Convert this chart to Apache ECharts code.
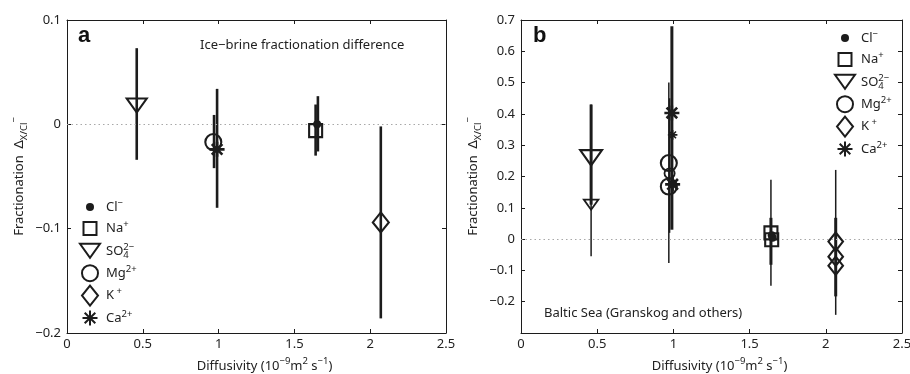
<!DOCTYPE html>
<html><head><meta charset="utf-8">
<script src="https://cdn.jsdelivr.net/npm/echarts@6/dist/echarts.min.js"></script>
<style>html,body{margin:0;padding:0;background:#fff}#c{width:910px;height:374px}</style>
</head><body><div id="c"></div>
<script>
// ---------- data ----------
const ionKeys = ['Cl', 'Na', 'SO4', 'Mg', 'K', 'Ca'];
const xTickValues = [0, 0.5, 1, 1.5, 2, 2.5];
const aYTickValues = [-0.2, -0.1, 0, 0.1];
const bYTickValues = [-0.3, -0.2, -0.1, 0, 0.1, 0.2, 0.3, 0.4, 0.5, 0.6, 0.7];

// panel a: ice-brine fractionation difference  [diffusivity, fractionation]
const aCl  = [[1.65, 0.000]];
const aNa  = [[1.64, -0.006]];
const aSO4 = [[0.46, 0.018]];
const aMg  = [[0.965, -0.017]];
const aK   = [[2.07, -0.094]];
const aCa  = [[0.99, -0.024]];
// error bars [x, low, high]
const aErr = [[0.46, -0.034, 0.073], [0.97, -0.042, 0.009], [0.99, -0.080, 0.034],
              [1.64, -0.030, 0.019], [1.655, -0.026, 0.027], [2.07, -0.186, -0.002]];

// panel b: Baltic Sea (Granskog and others)
const bCl       = [[1.645, 0.012], [1.65, 0.004]];
const bNa       = [[1.64, 0.020], [1.645, -0.002]];
const bSO4      = [[0.46, 0.26]];
const bSO4small = [[0.46, 0.11]];
const bMg       = [[0.97, 0.243], [0.97, 0.168]];
const bMgSmall  = [[0.975, 0.21]];
const bK        = [[2.065, -0.008], [2.065, -0.056], [2.065, -0.085]];
const bCa       = [[0.99, 0.403], [0.995, 0.175]];
const bCaSmall  = [[0.995, 0.333]];
const bErrThick = [[0.46, 0.11, 0.43], [0.99, 0.03, 0.68], [1.64, -0.082, 0.068], [2.065, -0.183, 0.068]];
const bErrThin  = [[0.46, -0.055, 0.43], [0.97, -0.076, 0.50], [0.975, 0.02, 0.45],
                   [1.64, -0.149, 0.19], [2.065, -0.242, 0.221]];

// ---------- styling ----------
const FONT = 'Noto Sans';
const FS = 13;
const INK = '#1c1c1c';
const SYM = {
  Cl:  'path://M0,0M22,22M15,11A4,4,0,1,1,7,11A4,4,0,1,1,15,11Z',
  Na:  'path://M0,0M22,22M4.5,4.5L17.5,4.5L17.5,17.5L4.5,17.5Z',
  SO4: 'path://M0,0M22,22M1,4L21,4L11,18Z',
  Mg:  'path://M0,0M22,22M19,11A8,8,0,1,1,3,11A8,8,0,1,1,19,11Z',
  K:   'path://M0,0M22,22M11,1L19,11L11,21L3,11Z',
  Ca:  'path://M0,0M22,22M11,3.5L11,18.5M3.5,11L18.5,11M5.7,5.7L16.3,16.3M16.3,5.7L5.7,16.3'
};
const legendText = {
  Cl: 'Cl{sup|−}', Na: 'Na{sup|+}', SO4: 'SO{sub0|4}{sup|2−}',
  Mg: 'Mg{sup|2+}', K: 'K{sup| +}', Ca: 'Ca{sup|2+}'
};
function itemStyleFor(k, bw) {
  if (k === 'Cl') return { color: INK, borderColor: INK, borderWidth: 0, opacity: 1 };
  return { color: 'rgba(0,0,0,0)', borderColor: INK, borderWidth: bw || (k === 'Ca' ? 2.6 : 2.1), opacity: 1 };
}
function scatter(name, data, xi, yi, size, bw) {
  return {
    type: 'scatter', name: name, data: data, xAxisIndex: xi, yAxisIndex: yi,
    symbol: SYM[name], symbolSize: size, itemStyle: itemStyleFor(name, bw),
    z: 5, silent: true, emphasis: { disabled: true }
  };
}
function errRender(lw) {
  return function (params, api) {
    const p1 = api.coord([api.value(0), api.value(1)]);
    const p2 = api.coord([api.value(0), api.value(2)]);
    return { type: 'line', shape: { x1: p1[0], y1: p1[1], x2: p2[0], y2: p2[1] },
             style: { stroke: INK, lineWidth: lw } };
  };
}
function errSeries(data, xi, yi, lw, zeroLine) {
  const s = { type: 'custom', data: data, xAxisIndex: xi, yAxisIndex: yi,
    encode: { x: 0, y: [1, 2] }, renderItem: errRender(lw), silent: true, z: 3 };
  if (zeroLine) {
    s.markLine = { silent: true, symbol: 'none', label: { show: false },
      lineStyle: { color: '#a8a8a8', type: [1.5, 3], width: 1 },
      data: [{ yAxis: 0 }], animation: false };
  }
  return s;
}
const minus = v => String(v).replace('-', '−');
const axisText = { color: '#222', fontFamily: FONT, fontSize: FS };
const richName = {
  sup: { fontSize: 9.5, verticalAlign: 'top', lineHeight: 10, fontFamily: FONT, color: '#222' },
  sub: { fontSize: 9.5, verticalAlign: 'bottom', lineHeight: 10, fontFamily: FONT, color: '#222' }
};
function xAxes(grid) {
  const base = { gridIndex: grid, type: 'value', min: xTickValues[0], max: xTickValues[xTickValues.length - 1],
    interval: xTickValues[1] - xTickValues[0], splitLine: { show: false },
    axisLine: { show: true, onZero: false, lineStyle: { color: INK, width: 1 } },
    axisTick: { show: true, inside: true, length: 4, lineStyle: { color: INK } } };
  return [
    Object.assign({}, base, { position: 'bottom',
      axisLabel: Object.assign({ margin: 5, formatter: minus }, axisText),
      name: 'Diffusivity (10{sup|−9}m{sup|2} s{sup|−1})', nameLocation: 'middle', nameGap: 20,
      nameTextStyle: Object.assign({ lineHeight: 20, rich: richName, padding: [0, 0, 0, 16] }, axisText) }),
    Object.assign({}, base, { position: 'top', axisLabel: { show: false } })
  ];
}
function yAxes(grid, ticks, hideBelow) {
  const base = { gridIndex: grid, type: 'value', min: ticks[0], max: ticks[ticks.length - 1],
    interval: 0.1, splitLine: { show: false },
    axisLine: { show: true, onZero: false, lineStyle: { color: INK, width: 1 } },
    axisTick: { show: true, inside: true, length: 4, lineStyle: { color: INK } } };
  return [
    Object.assign({}, base, { position: 'left',
      axisLabel: Object.assign({ margin: 6,
        formatter: v => (v < hideBelow ? '' : minus(Math.round(v * 10) / 10)) }, axisText),
      name: 'Fractionation  Δ{sub|X/Cl}{sup|−}', nameLocation: 'middle', nameGap: 38, nameRotate: 90,
      nameTextStyle: Object.assign({ lineHeight: 20, rich: richName }, axisText) }),
    Object.assign({}, base, { position: 'right', axisLabel: { show: false } })
  ];
}
function legendFor(left, top) {
  return {
    orient: 'vertical', left: left, top: top, padding: 0, itemWidth: 22, itemHeight: 22, itemGap: -1.6,
    data: ionKeys, selectedMode: false, formatter: n => legendText[n],
    textStyle: { color: '#222', fontFamily: FONT, fontSize: FS, lineHeight: 18,
      rich: {
        sup: { fontSize: 9.5, verticalAlign: 'top', lineHeight: 10, fontFamily: FONT, color: '#222' },
        sub0: { fontSize: 9.5, verticalAlign: 'bottom', lineHeight: 10, width: 0, fontFamily: FONT, color: '#222' }
      } }
  };
}

const option = {
  animation: false,
  backgroundColor: '#fff',
  grid: [
    { left: 67, top: 20, width: 379, height: 313, outerBoundsMode: 'none', containLabel: false },
    { left: 521, top: 20, width: 381, height: 313, outerBoundsMode: 'none', containLabel: false }
  ],
  xAxis: xAxes(0).concat(xAxes(1)),
  yAxis: yAxes(0, aYTickValues, -1).concat(yAxes(1, bYTickValues, -0.25)),
  legend: [legendFor(78, 196), legendFor(833, 27)],
  graphic: [
    { type: 'text', style: { x: 78, y: 36, text: 'a', font: 'bold 22px "Liberation Sans"', fill: '#111', verticalAlign: 'middle' } },
    { type: 'text', style: { x: 533, y: 36, text: 'b', font: 'bold 22px "Liberation Sans"', fill: '#111', verticalAlign: 'middle' } },
    { type: 'text', style: { x: 200, y: 45, text: 'Ice−brine fractionation difference', font: FS + 'px "' + FONT + '"', fill: '#222', verticalAlign: 'middle' } },
    { type: 'text', style: { x: 544, y: 313, text: 'Baltic Sea (Granskog and others)', font: FS + 'px "' + FONT + '"', fill: '#222', verticalAlign: 'middle' } }
  ],
  series: [
    errSeries(aErr, 0, 0, 2.6, true),
    scatter('Cl', aCl, 0, 0, 22),
    scatter('Na', aNa, 0, 0, 22),
    scatter('SO4', aSO4, 0, 0, 22),
    scatter('Mg', aMg, 0, 0, 22),
    scatter('K', aK, 0, 0, 22),
    scatter('Ca', aCa, 0, 0, 22),

    errSeries(bErrThin, 2, 2, 1.5, true),
    errSeries(bErrThick, 2, 2, 3, false),
    scatter('Cl', bCl, 2, 2, 22),
    scatter('Na', bNa, 2, 2, 22),
    scatter('SO4', bSO4, 2, 2, 24),
    scatter('SO4', bSO4small, 2, 2, 16, 1.8),
    scatter('Mg', bMg, 2, 2, 22),
    scatter('Mg', bMgSmall, 2, 2, 14, 1.8),
    scatter('K', bK, 2, 2, 20),
    scatter('Ca', bCa, 2, 2, 22),
    scatter('Ca', bCaSmall, 2, 2, 14, 1.6)
  ]
};
const chart = echarts.init(document.getElementById('c'), null, { renderer: 'canvas' });
chart.setOption(option);
</script>
</body></html>
